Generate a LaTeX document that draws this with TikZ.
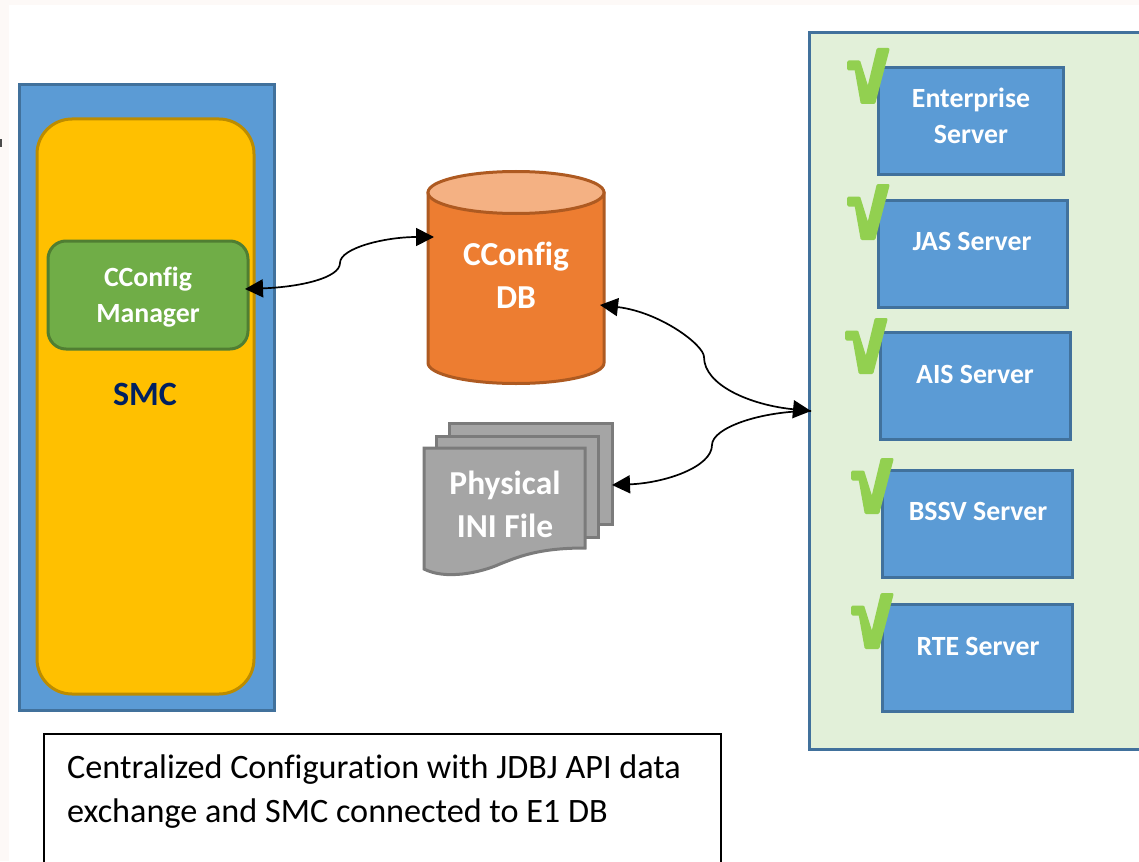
\documentclass[tikz,border=0pt]{standalone}
\usepackage{fontspec}
\setmainfont[Ligatures=NoCommon]{Carlito}
\usetikzlibrary{arrows.meta}
\definecolor{cblue}{HTML}{5B9BD5}
\definecolor{cblueb}{HTML}{41719C}
\definecolor{cyellow}{HTML}{FFC000}
\definecolor{cyellowb}{HTML}{BC8C00}
\definecolor{cgreen}{HTML}{70AD47}
\definecolor{cgreenb}{HTML}{507E32}
\definecolor{corange}{HTML}{ED7D31}
\definecolor{corangeb}{HTML}{AE5A21}
\definecolor{corangel}{HTML}{F4B183}
\definecolor{cgrey}{HTML}{A5A5A5}
\definecolor{cgreyb}{HTML}{7B7B7B}
\definecolor{cpale}{HTML}{E2F0D9}
\definecolor{ccheck}{HTML}{92D050}
\definecolor{cstrip}{HTML}{FDF9F7}
\definecolor{cnavy}{HTML}{002060}
\tikzset{
  x=1pt,y=-1pt,
  box/.style={draw,line width=3pt,inner sep=0pt,outer sep=0pt,align=center},
  server/.style={box,fill=cblue,draw=cblueb,minimum width=#1,minimum height=107pt},
  wlabel/.style={text=white,inner sep=0pt,outer sep=0pt,align=center,font=\fontsize{27.8}{36}\selectfont\bfseries},
  wbig/.style={text=white,inner sep=0pt,outer sep=0pt,align=center,font=\fontsize{33.5}{43}\selectfont\bfseries},
  conn/.style={line width=1.7pt,black,{Triangle[length=18pt,width=18pt]}-{Triangle[length=18pt,width=18pt]}},
  connend/.style={line width=1.7pt,black,{Triangle[length=18pt,width=18pt]}-},
  checkmark/.style={fill=ccheck,draw=ccheck,line width=3pt,line join=round},
  sheet/.style={fill=cgrey,draw=cgreyb,line width=3pt},
  caption/.style={draw=black,line width=1.2pt,fill=white,inner sep=0pt,outer sep=0pt,minimum width=677pt,minimum height=200pt}
}
\newcommand{\tick}[2]{\path[checkmark,shift={(#1,#2)}] (3.5,15) -- (14,15) -- (23,44) -- (33,2.5) -- (43,2.5) -- (29,55.5) -- (17,55.5) -- (11,22) -- (3.5,22) -- cycle;}
\begin{document}
\begin{tikzpicture}
\useasboundingbox (0,0) rectangle (1139,861);
\clip (0,0) rectangle (1139,861);
\fill[cstrip] (0,0) rectangle (1139,861);
\fill[white] (9,5) rectangle (1139,861);
\fill[black!70] (0,139) rectangle (1.5,147);

% SMC
\node[box,fill=cblue,draw=cblueb,minimum width=255pt,minimum height=625pt] (smcouter) at (146.5,397.5) {};
\node[box,fill=cyellow,draw=cyellowb,rounded corners=35pt,minimum width=217pt,minimum height=575pt] (smc) at (145.5,406.5) {};
\node[box,fill=cgreen,draw=cgreenb,rounded corners=18pt,minimum width=200pt,minimum height=108pt] (mgr) at (148,295) {};
\node[wlabel] (mgrt) at (148,297) {CConfig\\Manager};
\node[inner sep=0pt,text=cnavy,font=\fontsize{34}{38}\selectfont\bfseries] (smct) at (145,394) {SMC};

% Cylinder
\fill[corange,draw=corangeb,line width=3pt] (428,193) -- (428,363) arc[start angle=180,end angle=360,x radius=88,y radius=-20.5] -- (604,193) -- cycle;
\draw[fill=corangel,draw=corangeb,line width=3pt] (516,192.5) ellipse[x radius=88,y radius=21];
\node[wbig] (cdb) at (516,275) {CConfig\\DB};

% Multi document
\path[sheet] (449,423) -- (612,423) -- (612,524) -- (449,524) -- cycle;
\path[sheet] (436,436) -- (598,436) -- (598,537) -- (436,537) -- cycle;
\path[sheet] (424,448) -- (585,448) -- (585,548)
  .. controls (540,548) and (520,556) .. (500,564)
  .. controls (480,573) and (445,580) .. (424,569) -- cycle;
\node[wbig] (ini) at (505,504) {Physical\\INI File};

% Server panel
\node[box,fill=cpale,draw=cblueb,minimum width=500pt,minimum height=717pt] (panel) at (1059.5,391) {};
\node[server=185pt] (s1) at (971,121.5) {};
\node[server=189pt] (s2) at (973,253.5) {};
\node[server=190pt] (s3) at (975.5,386) {};
\node[server=190pt] (s4) at (977.5,524) {};
\node[server=190pt] (s5) at (977.5,658) {};
\node[wlabel] (t1) at (971,116) {Enterprise\\Server};
\node[wlabel] (t2) at (972,241) {JAS Server};
\node[wlabel] (t3) at (975,374) {AIS Server};
\node[wlabel] (t4) at (978,511) {BSSV Server};
\node[wlabel] (t5) at (978,646) {RTE Server};
\tick{845}{47}
\tick{845}{183}
\tick{843}{317}
\tick{849}{457}
\tick{849}{592}

% Caption
\node[caption,anchor=north west] (cap) at (44,734) {};
\node[anchor=north west,inner sep=0pt,align=left,font=\fontsize{34.2}{44}\selectfont] (capt) at (67,755) {Centralized Configuration with JDBJ API data\\exchange and SMC connected to E1 DB};

% Connectors
\coordinate (pa) at (245,289);
\coordinate (pb) at (434,237);
\coordinate (pc) at (600,305);
\coordinate (pd) at (811,411);
\coordinate (pe) at (612,485);
\draw[conn] (pa) .. controls (300,287) and (340,278) .. (340,263)
  .. controls (340,248) and (385,237) .. (pb);
\draw[conn] (pc) .. controls (660,312) and (704,345) .. (704,357)
  .. controls (704,385) and (750,405) .. (pd);
\draw[connend] (pe) .. controls (665,483) and (712,467) .. (712,445)
  .. controls (712,428) and (760,411) .. (pd);
\end{tikzpicture}
\end{document}
